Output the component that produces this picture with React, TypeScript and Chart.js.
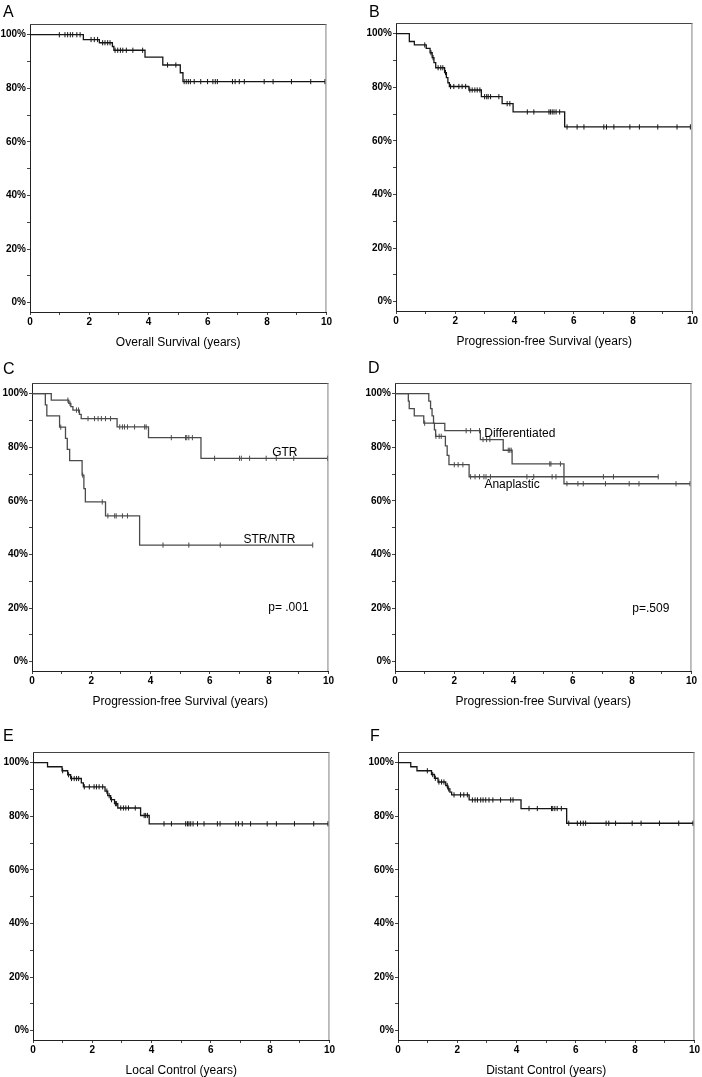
import React, { useEffect, useRef } from 'react';
import { Chart, registerables } from 'chart.js';

Chart.register(...registerables);
Chart.defaults.font.family = '"Liberation Sans", Arial, sans-serif';

// ---------- DATA (years, survival %) ----------
// Panel A – Overall survival
const aEventTimes = [1.8, 2.34, 2.78, 2.83, 3.88, 4.48, 5.07, 5.16];
const aEventSurv = [98.2, 97.0, 95.6, 94.2, 91.6, 88.7, 85.8, 82.5];
const aCensorTimes = [0.99, 1.18, 1.27, 1.36, 1.44, 1.58, 1.69, 2.06, 2.17, 2.28, 2.45, 2.53, 2.62, 2.7, 2.87, 2.96, 3.05, 3.13, 3.25, 3.47, 3.8, 4.64, 4.92, 5.2, 5.27, 5.34, 5.41, 5.54, 5.76, 5.99, 6.17, 6.25, 6.32, 6.83, 6.92, 7.06, 7.23, 7.9, 8.2, 8.82, 9.47, 9.95];

// Panel B – Progression-free survival
const bEventTimes = [0.45, 0.62, 1.02, 1.15, 1.22, 1.28, 1.34, 1.64, 1.7, 1.75, 1.8, 2.46, 2.88, 3.58, 3.95, 5.69];
const bEventSurv = [97.1, 95.8, 94.5, 92.9, 91.1, 89.2, 87.3, 85.5, 83.6, 81.7, 80.3, 79.0, 76.5, 73.9, 70.8, 65.2];
const bCensorTimes = [0.97, 1.18, 1.25, 1.42, 1.51, 1.58, 1.67, 1.84, 1.95, 2.12, 2.23, 2.35, 2.49, 2.57, 2.66, 2.74, 2.83, 2.99, 3.06, 3.11, 3.19, 3.47, 3.75, 3.84, 4.43, 4.65, 5.16, 5.21, 5.27, 5.33, 5.4, 5.52, 5.77, 6.11, 6.34, 7.01, 7.1, 7.35, 7.89, 8.21, 8.83, 9.48, 9.93];

// Panel C – PFS by extent of resection
const gtrEventTimes = [0.65, 1.24, 1.31, 1.38, 1.6, 1.66, 2.87, 3.93, 5.7];
const gtrEventSurv = [97.6, 96.4, 95.2, 93.9, 92.3, 90.7, 87.6, 83.6, 75.9];
const gtrCensorTimes = [1.21, 1.28, 1.5, 1.57, 1.89, 2.11, 2.23, 2.34, 2.48, 2.65, 2.96, 3.05, 3.12, 3.22, 3.46, 3.8, 3.85, 4.7, 5.18, 5.22, 5.29, 5.41, 6.16, 7.0, 7.06, 7.34, 7.9, 8.24, 8.83, 9.97];
const strEventTimes = [0.45, 0.5, 0.93, 1.13, 1.19, 1.27, 1.69, 1.75, 1.8, 2.48, 3.63];
const strEventSurv = [95.8, 91.7, 87.5, 83.3, 79.2, 75.0, 69.6, 64.6, 59.6, 54.4, 43.5];
const strCensorTimes = [0.97, 1.71, 2.37, 2.56, 2.79, 2.84, 3.05, 3.22, 4.42, 5.29, 6.35, 9.47];

// Panel D – PFS by histology
const difEventTimes = [1.14, 1.2, 1.25, 1.3, 1.68, 2.88, 3.65, 3.95, 5.7];
const difEventSurv = [97.2, 94.4, 91.7, 88.9, 86.2, 82.9, 78.9, 73.8, 66.4];
const difCensorTimes = [2.4, 2.55, 2.85, 2.97, 3.09, 3.2, 3.82, 3.87, 3.92, 5.22, 5.26, 5.58, 5.8, 6.17, 6.35, 7.1, 7.9, 8.23, 9.48, 9.95];
const anaEventTimes = [0.45, 0.48, 0.65, 0.97, 1.33, 1.37, 1.7, 1.76, 1.82, 2.5];
const anaEventSurv = [97.2, 94.4, 91.7, 89.0, 86.5, 84.1, 80.5, 77.0, 73.5, 69.0];
const anaCensorTimes = [1.0, 1.38, 1.49, 1.56, 2.0, 2.13, 2.29, 2.55, 2.7, 2.85, 3.0, 3.07, 3.22, 4.45, 4.68, 5.3, 5.43, 7.03, 7.37, 8.88];

// Panel E – Local control
const eEventTimes = [0.49, 0.98, 1.17, 1.27, 1.63, 1.7, 2.43, 2.52, 2.62, 2.75, 2.86, 3.63, 3.92];
const eEventSurv = [98.5, 97.0, 95.5, 94.1, 92.5, 91.0, 89.4, 87.7, 86.2, 84.7, 83.1, 80.3, 77.2];
const eCensorTimes = [1.0, 1.2, 1.3, 1.39, 1.47, 1.54, 1.73, 1.9, 2.06, 2.14, 2.23, 2.35, 2.49, 2.57, 2.65, 2.78, 2.82, 2.96, 3.05, 3.13, 3.22, 3.45, 3.75, 3.8, 3.86, 4.42, 4.67, 5.15, 5.21, 5.26, 5.32, 5.4, 5.55, 5.77, 6.22, 6.31, 6.84, 6.93, 7.06, 7.34, 7.9, 8.21, 8.82, 9.47, 9.95];

// Panel F – Distant control
const fEventTimes = [0.43, 0.64, 1.13, 1.23, 1.35, 1.61, 1.68, 1.75, 1.81, 2.4, 4.15, 5.69];
const fEventSurv = [98.5, 97.0, 95.6, 94.2, 92.8, 91.5, 90.2, 89.0, 88.0, 86.1, 82.9, 77.4];
const fCensorTimes = [0.99, 1.17, 1.26, 1.38, 1.47, 1.55, 1.66, 1.71, 1.89, 2.11, 2.22, 2.34, 2.51, 2.6, 2.68, 2.79, 2.87, 2.96, 3.07, 3.2, 3.46, 3.8, 3.88, 4.42, 4.7, 5.18, 5.22, 5.29, 5.37, 5.51, 5.76, 6.05, 6.16, 6.25, 6.33, 7.02, 7.11, 7.34, 7.9, 8.2, 8.82, 9.47, 9.95];

// Axis ticks
const xTickValues = [0, 1, 2, 3, 4, 5, 6, 7, 8, 9, 10];
const yTickValues = [0, 10, 20, 30, 40, 50, 60, 70, 80, 90, 100];

// ---------- LAYOUT ----------
const AREA_W = 297;
const AREA_H = 288;
const Y_AXIS_W = 32;
const X_AXIS_H = 40;
const PAD_TOP = 24;
const PAD_RIGHT = 6;
const CANVAS_W = Y_AXIS_W + AREA_W + PAD_RIGHT;
const CANVAS_H = PAD_TOP + AREA_H + X_AXIS_H;

const DARK = '#151515';
const GREY = '#4a4a4a';

type Curve = { times: number[]; surv: number[]; cens: number[]; color: string };
type Note = { text: string; x: number; y: number };
type PanelCfg = {
  letter: string; left: number; top: number; letterDx: number; letterDy: number;
  xTitle: string; curves: Curve[]; notes: Note[];
};

const panels: PanelCfg[] = [
  { letter: 'A', left: 30, top: 24, letterDx: -27, letterDy: -7, xTitle: 'Overall Survival (years)',
    curves: [{ times: aEventTimes, surv: aEventSurv, cens: aCensorTimes, color: DARK }], notes: [] },
  { letter: 'B', left: 396, top: 23, letterDx: -27, letterDy: -6.5, xTitle: 'Progression-free Survival (years)',
    curves: [{ times: bEventTimes, surv: bEventSurv, cens: bCensorTimes, color: DARK }], notes: [] },
  { letter: 'C', left: 32, top: 383, letterDx: -29, letterDy: -9.5, xTitle: 'Progression-free Survival (years)',
    curves: [
      { times: gtrEventTimes, surv: gtrEventSurv, cens: gtrCensorTimes, color: GREY },
      { times: strEventTimes, surv: strEventSurv, cens: strCensorTimes, color: GREY },
    ],
    notes: [
      { text: 'GTR', x: 8.53, y: 78.0 },
      { text: 'STR/NTR', x: 8.01, y: 45.7 },
      { text: 'p= .001', x: 8.65, y: 20.0 },
    ] },
  { letter: 'D', left: 395, top: 383, letterDx: -27, letterDy: -10, xTitle: 'Progression-free Survival (years)',
    curves: [
      { times: difEventTimes, surv: difEventSurv, cens: difCensorTimes, color: GREY },
      { times: anaEventTimes, surv: anaEventSurv, cens: anaCensorTimes, color: GREY },
    ],
    notes: [
      { text: 'Differentiated', x: 4.21, y: 85.0 },
      { text: 'Anaplastic', x: 3.95, y: 66.1 },
      { text: 'p=.509', x: 8.63, y: 19.8 },
    ] },
  { letter: 'E', left: 33, top: 752, letterDx: -30, letterDy: -11, xTitle: 'Local Control (years)',
    curves: [{ times: eEventTimes, surv: eEventSurv, cens: eCensorTimes, color: DARK }], notes: [] },
  { letter: 'F', left: 398, top: 752, letterDx: -28, letterDy: -11.5, xTitle: 'Distant Control (years)',
    curves: [{ times: fEventTimes, surv: fEventSurv, cens: fCensorTimes, color: DARK }], notes: [] },
];

// ---------- HELPERS ----------
function survAt(times: number[], surv: number[], t: number): number {
  let s = 100;
  for (let i = 0; i < times.length; i++) {
    if (times[i] <= t) s = surv[i];
  }
  return s;
}

function buildCurve(times: number[], surv: number[], end: number) {
  const pts = [{ x: 0, y: 100 }];
  times.forEach((t, i) => pts.push({ x: t, y: surv[i] }));
  pts.push({ x: end, y: surv[surv.length - 1] });
  return pts;
}

const framePlugin = {
  id: 'kmFrame',
  afterDraw(chart: any, _args: any, opts: any) {
    const { ctx, chartArea: a, scales } = chart;
    ctx.save();
    ctx.lineWidth = 1;
    ctx.strokeStyle = '#444';
    ctx.beginPath();
    ctx.moveTo(a.left, a.top + 0.5);
    ctx.lineTo(a.right, a.top + 0.5);
    ctx.stroke();
    ctx.strokeStyle = '#808080';
    ctx.beginPath();
    ctx.moveTo(a.right - 0.5, a.top);
    ctx.lineTo(a.right - 0.5, a.bottom);
    ctx.stroke();

    ctx.fillStyle = '#000';
    ctx.font = '16px "Liberation Sans", Arial, sans-serif';
    ctx.textAlign = 'left';
    ctx.textBaseline = 'alphabetic';
    ctx.fillText(opts.letter, a.left + opts.letterDx, a.top + opts.letterDy);

    ctx.font = '12px "Liberation Sans", Arial, sans-serif';
    ctx.textAlign = 'center';
    ctx.textBaseline = 'middle';
    (opts.notes || []).forEach((n: Note) => {
      ctx.fillText(n.text, scales.x.getPixelForValue(n.x), scales.y.getPixelForValue(n.y));
    });
    ctx.restore();
  },
};

function KMPanel({ p }: { p: PanelCfg }) {
  const ref = useRef<HTMLCanvasElement>(null);
  useEffect(() => {
    if (!ref.current) return;
    const datasets: any[] = [];
    p.curves.forEach((c) => {
      const end = Math.max(c.cens[c.cens.length - 1], c.times[c.times.length - 1]);
      datasets.push({
        data: buildCurve(c.times, c.surv, end),
        borderColor: c.color,
        borderWidth: 1.3,
        stepped: true,
        pointRadius: 0,
        fill: false,
      });
      datasets.push({
        data: c.cens.map((t) => ({ x: t, y: survAt(c.times, c.surv, t) })),
        showLine: false,
        pointStyle: 'line',
        pointRotation: 90,
        pointRadius: 2.6,
        pointBorderWidth: 1,
        pointBorderColor: c.color,
        pointBackgroundColor: c.color,
        borderColor: c.color,
      });
    });

    const tickFont = { size: 10, weight: 'bold' as const, family: '"Liberation Sans", Arial, sans-serif' };

    const chart = new Chart(ref.current, {
      type: 'line',
      data: { datasets },
      plugins: [framePlugin],
      options: {
        animation: false,
        responsive: false,
        devicePixelRatio: 1,
        events: [],
        layout: { padding: { top: PAD_TOP, right: PAD_RIGHT, left: 0, bottom: 0 } },
        plugins: {
          legend: { display: false },
          tooltip: { enabled: false },
          kmFrame: { letter: p.letter, letterDx: p.letterDx, letterDy: p.letterDy, notes: p.notes },
        } as any,
        scales: {
          x: {
            type: 'linear',
            min: 0,
            max: 10,
            afterBuildTicks: (s: any) => { s.ticks = xTickValues.map((v) => ({ value: v })); },
            afterFit: (s: any) => { s.height = X_AXIS_H; },
            ticks: {
              autoSkip: false,
              maxRotation: 0,
              padding: 1,
              color: '#000',
              font: tickFont,
              callback: (v: any) => (Number(v) % 2 === 0 ? String(v) : ''),
            },
            grid: { drawOnChartArea: false, drawTicks: true, tickLength: 3, color: '#444' },
            border: { display: true, color: '#222', width: 1 },
            title: {
              display: true,
              text: p.xTitle,
              color: '#000',
              font: { size: 12, family: '"Liberation Sans", Arial, sans-serif' },
              padding: { top: 0, bottom: 2 },
            },
          },
          y: {
            type: 'linear',
            min: -3.5,
            max: 104,
            afterBuildTicks: (s: any) => { s.ticks = yTickValues.map((v) => ({ value: v })); },
            afterFit: (s: any) => { s.width = Y_AXIS_W; },
            ticks: {
              autoSkip: false,
              padding: 1,
              color: '#000',
              font: tickFont,
              callback: (v: any) => (Number(v) % 20 === 0 ? `${v}%` : ''),
            },
            grid: { drawOnChartArea: false, drawTicks: true, tickLength: 3, color: '#444' },
            border: { display: true, color: '#222', width: 1 },
          },
        },
      },
    });
    return () => chart.destroy();
  }, [p]);

  return (
    <canvas
      ref={ref}
      width={CANVAS_W}
      height={CANVAS_H}
      style={{
        position: 'absolute',
        left: p.left - Y_AXIS_W,
        top: p.top - PAD_TOP,
        width: CANVAS_W,
        height: CANVAS_H,
      }}
    />
  );
}

export default function App() {
  return (
    <div
      style={{
        position: 'absolute',
        left: 0,
        top: 0,
        width: 702,
        height: 1077,
        overflow: 'hidden',
        background: '#fff',
      }}
    >
      {panels.map((p) => (
        <KMPanel key={p.letter} p={p} />
      ))}
    </div>
  );
}
